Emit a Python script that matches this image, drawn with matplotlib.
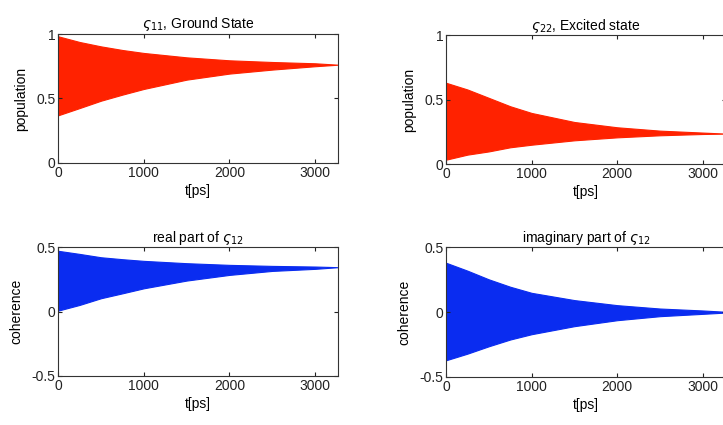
import matplotlib
matplotlib.use('Agg')
import matplotlib.pyplot as plt

plt.rcParams['font.family'] = ['Liberation Sans', 'DejaVu Sans']
plt.rcParams['mathtext.fontset'] = 'dejavusans'

# time points [ps] where the envelopes were read
t = [0, 250, 500, 750, 1000, 1500, 2000, 2500, 3000, 3270]

# rho_11, ground state (upper / lower envelope)
g_upper = [0.982, 0.938, 0.904, 0.876, 0.853, 0.819, 0.796, 0.783, 0.773, 0.762]
g_lower = [0.370, 0.426, 0.483, 0.530, 0.574, 0.646, 0.693, 0.724, 0.750, 0.762]

# rho_22, excited state
e_upper = [0.630, 0.578, 0.513, 0.448, 0.396, 0.326, 0.285, 0.259, 0.244, 0.236]
e_lower = [0.034, 0.073, 0.098, 0.130, 0.150, 0.184, 0.207, 0.223, 0.233, 0.236]

# real part of rho_12
r_upper = [0.472, 0.448, 0.422, 0.407, 0.394, 0.376, 0.363, 0.355, 0.350, 0.345]
r_lower = [0.008, 0.052, 0.104, 0.142, 0.181, 0.241, 0.285, 0.316, 0.332, 0.345]

# imaginary part of rho_12
i_upper = [0.381, 0.320, 0.253, 0.196, 0.149, 0.093, 0.054, 0.028, 0.013, 0.003]
i_lower = [-0.371, -0.320, -0.263, -0.211, -0.170, -0.108, -0.062, -0.031, -0.013, -0.003]

red = '#ff2200'
blue = '#0a2cf0'

fig = plt.figure(figsize=(7.23, 4.25), dpi=100)

panels = [
    ([0.0806, 0.6165, 0.387, 0.3035], g_upper, g_lower, red,
     r'$\varsigma_{11}$, Ground State', 'population', (0, 1), [0, 0.5, 1], ['0', '0.5', '1']),
    ([0.617, 0.614, 0.387, 0.3035], e_upper, e_lower, red,
     r'$\varsigma_{22}$, Excited state', 'population', (0, 1), [0, 0.5, 1], ['0', '0.5', '1']),
    ([0.0806, 0.1153, 0.387, 0.303], r_upper, r_lower, blue,
     r'real part of $\varsigma_{12}$', 'coherence', (-0.5, 0.5), [-0.5, 0, 0.5], ['-0.5', '0', '0.5']),
    ([0.617, 0.1130, 0.387, 0.305], i_upper, i_lower, blue,
     r'imaginary part of $\varsigma_{12}$', 'coherence', (-0.5, 0.5), [-0.5, 0, 0.5], ['-0.5', '0', '0.5']),
]

for pos, up, lo, col, title, ylab, ylim, yt, ytl in panels:
    ax = fig.add_axes(pos)
    ax.fill_between(t, lo, up, color=col, linewidth=0.8, edgecolor=col)
    ax.set_xlim(0, 3270)
    ax.set_ylim(*ylim)
    ax.set_xticks([0, 1000, 2000, 3000])
    ax.set_yticks(yt)
    ax.set_yticklabels(ytl)
    ax.tick_params(direction='in', top=True, right=True, length=3, width=0.8,
                   labelsize=10, colors='#222222', pad=2)
    for s in ax.spines.values():
        s.set_linewidth(0.8)
        s.set_color('#333333')
    ax.set_title(title, fontsize=10, pad=4)
    ax.set_ylabel(ylab, fontsize=10, labelpad=6)
    ax.set_xlabel('t[ps]', fontsize=10, labelpad=3)

fig.savefig('out.png', dpi=100)
